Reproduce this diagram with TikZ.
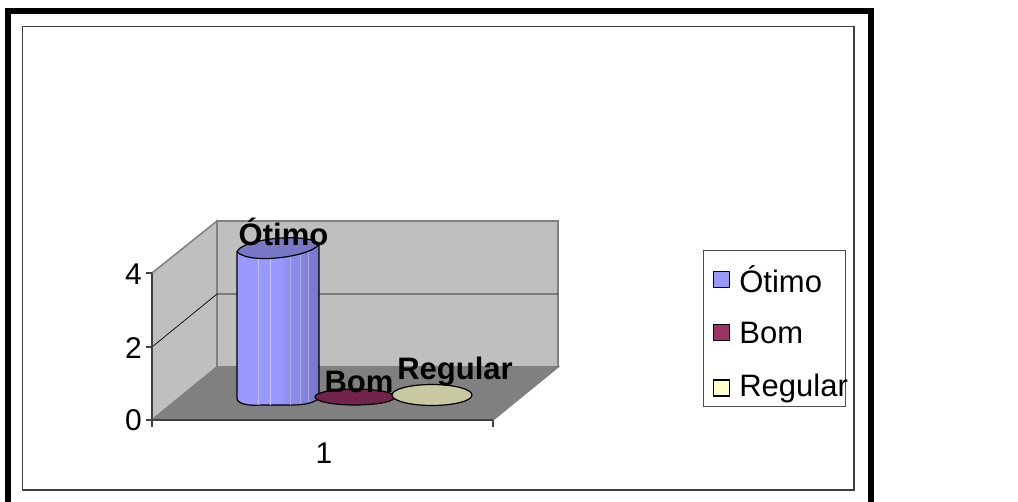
\documentclass[tikz,border=0pt]{standalone}
\usepackage{fontspec}
\setmainfont{Liberation Sans}
\usepackage{tikz}
\usetikzlibrary{positioning}
\definecolor{wallgray}{rgb}{0.75,0.75,0.75}
\definecolor{floorgray}{rgb}{0.5,0.5,0.5}
\definecolor{edgegray}{rgb}{0.5,0.5,0.5}
\definecolor{otimo}{rgb}{0.6,0.6,1.0}
\definecolor{otimodark}{rgb}{0.46,0.46,0.79}
\definecolor{otimotop}{rgb}{0.47,0.47,0.78}
\definecolor{bom}{rgb}{0.6,0.2,0.4}
\definecolor{bomdisk}{rgb}{0.45,0.14,0.29}
\definecolor{regular}{rgb}{1.0,1.0,0.8}
\definecolor{regulardisk}{rgb}{0.79,0.79,0.63}

\begin{document}
\begin{tikzpicture}[
  x = 1pt,
  y = -1pt,
  frame/.style = {
    draw,
    line width = 6pt,
  },
  chartbox/.style = {
    draw = black!75,
    line width = 1.2pt,
  },
  side/.style = {
    fill = wallgray,
    draw = edgegray,
    line width = 1.5pt,
  },
  floorside/.style = {
    fill = floorgray,
    draw = edgegray,
    line width = 1.5pt,
  },
  axisline/.style = {
    draw = black!75,
    line width = 1.3pt,
  },
  gridline/.style = {
    draw = black,
    line width = 0.7pt,
  },
  ticklabel/.style = {
    font = \fontsize{30}{32}\selectfont,
    inner sep = 0pt,
  },
  datalabel/.style = {
    font = \bfseries\fontsize{31}{33}\selectfont,
    inner sep = 0pt,
    anchor = base,
  },
  legkey/.style = {
    draw,
    rectangle,
    line width = 1.3pt,
    minimum size = 16pt,
    inner sep = 0pt,
  },
  legtext/.style = {
    font = \fontsize{31}{33}\selectfont,
    inner sep = 0pt,
  },
]

  \clip (0,0) rectangle (1018,502);
  \fill[white] (0,0) rectangle (1018,502);

  % frames
  \path[frame] (8,510) -- (8,11) -- (870.5,11) -- (870.5,510);
  \path[chartbox] (22.5,26.5) rectangle (854,490);

  % walls and floor
  \path[side] (152,273) -- (217,221) -- (217,367) -- (152,420) -- cycle;
  \path[side] (217,221) -- (558,221) -- (558,367) -- (217,367) -- cycle;
  \path[floorside] (152,420) -- (217,367) -- (558,367) -- (493,420) -- cycle;
  \path[gridline] (152,347) -- (217,294) -- (558,294);

  % axes
  \path[axisline] (152,273) -- (152,420) -- (493,420);
  \path[axisline] (146,273) -- (152,273);
  \path[axisline] (146,347) -- (152,347);
  \path[axisline] (146,420) -- (152,420);
  \path[axisline] (152,420) -- (152,427);
  \path[axisline] (493,420) -- (493,427);

  \node[ticklabel,anchor=east] (y4) at (142,274) {4};
  \node[ticklabel,anchor=east] (y2) at (142,348) {2};
  \node[ticklabel,anchor=east] (y0) at (142,420) {0};
  \node[ticklabel] (x1) at (324,453) {1};

  % Otimo column
  \path[left color=otimo,right color=otimodark,middle color=otimo,draw=black,line width=1.2pt]
    (237,252) -- (237,398) .. controls (237,404) and (248,406) .. (262,405)
    -- (292,405) .. controls (306,405) and (319,402) .. (319,396) -- (319,243) -- cycle;
  \path[draw=otimo!60!white,line width=0.5pt] (258,258) -- (258,405);
  \path[draw=otimo!60!white,line width=0.5pt] (270,259) -- (270,405);
  \path[draw=otimodark!60!white,line width=0.5pt] (290,257) -- (290,405);
  \path[draw=otimodark!60!white,line width=0.5pt] (300,255) -- (300,404);
  \path[draw=otimodark!60!white,line width=0.5pt] (308,252) -- (308,402);
  \path[fill=otimotop,draw=black,line width=1.2pt]
    (237,252) .. controls (240,240) and (300,232) .. (319,243)
    .. controls (318,255) and (252,266) .. cycle;

  % Bom and Regular discs
  \path[fill=bomdisk,draw=black,line width=1.2pt] (355,397) ellipse [x radius=40pt, y radius=8pt];
  \path[fill=regulardisk,draw=black,line width=1.2pt] (432,395) ellipse [x radius=40pt, y radius=10.5pt];

  \node[datalabel] (lotimo) at (283.5,246) {Ótimo};
  \node[datalabel] (lbom) at (359,393) {Bom};
  \node[datalabel] (lregular) at (455,380) {Regular};

  % legend
  \path[draw=black!70,line width=1pt] (703,251) rectangle (845,407);
  \node[legkey,fill=otimo] (k0) at (721.5,279.5) {};
  \node[legkey,fill=bom] (k1) [below=36pt of k0] {};
  \node[legkey,fill=regular] (k2) [below=38pt of k1] {};
  \node[legtext] (t0) [right=9pt of k0] {Ótimo};
  \node[legtext] (t1) [right=9pt of k1] {Bom};
  \node[legtext] (t2) [right=9pt of k2] {Regular};

\end{tikzpicture}
\end{document}
